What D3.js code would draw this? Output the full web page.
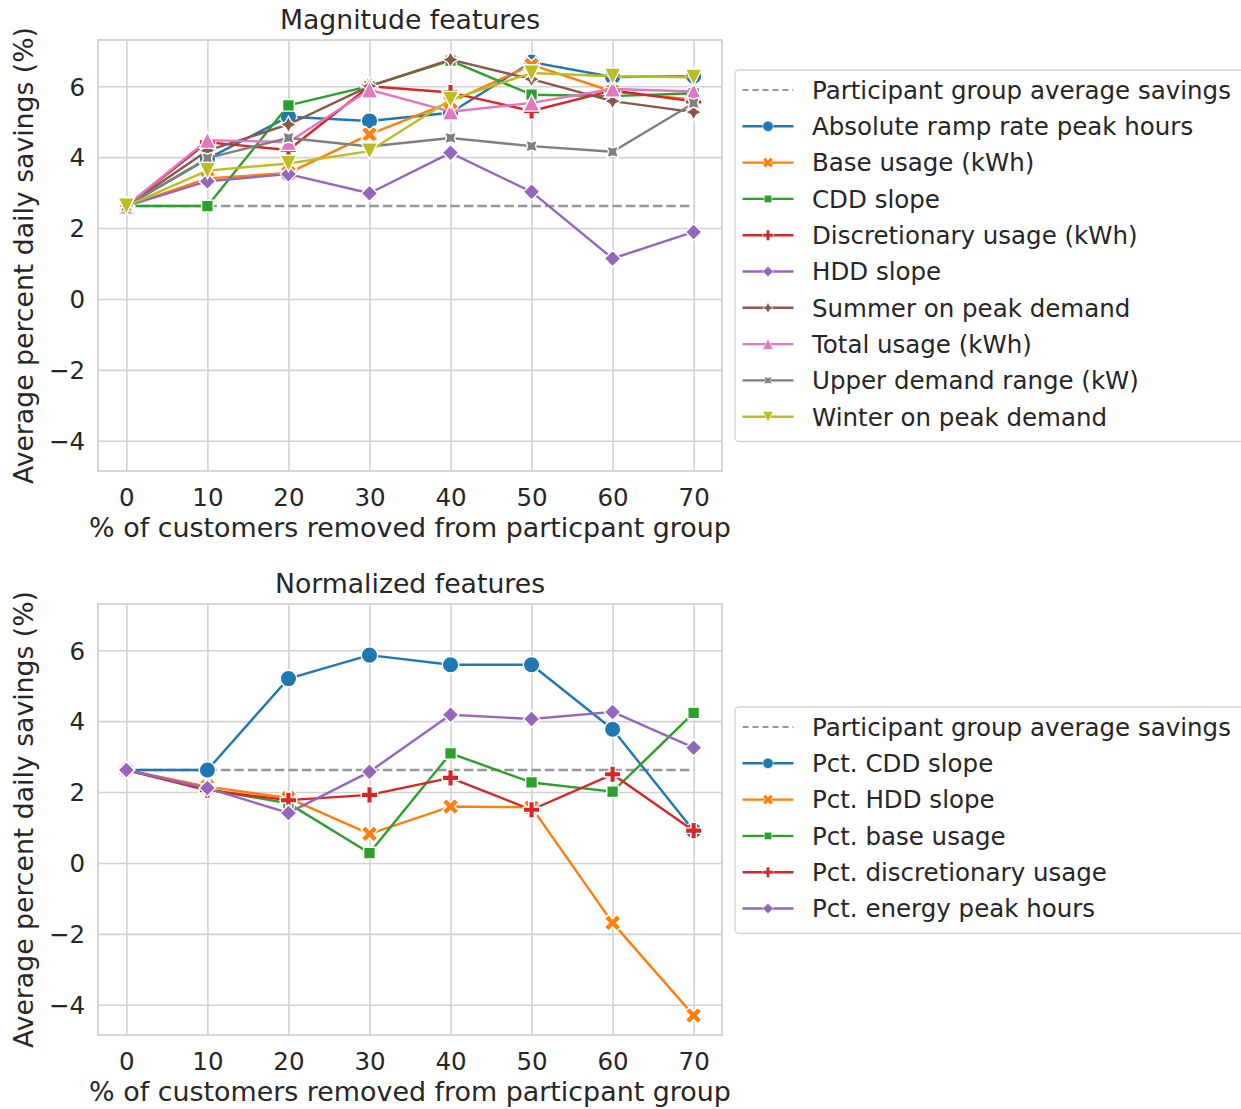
<!DOCTYPE html>
<html>
<head>
<meta charset="utf-8">
<script src="https://cdn.jsdelivr.net/npm/d3@7"></script>
<style>
  html, body { margin: 0; padding: 0; background: #fff; }
  svg { display: block; }
  text { font-family: "DejaVu Sans", sans-serif; fill: #262626; }
</style>
</head>
<body>
<svg id="chart" width="1241" height="1109"></svg>
<script>
// ---------------- DATA ----------------
const xValues = [0, 10, 20, 30, 40, 50, 60, 70];
const xTicks = [0, 10, 20, 30, 40, 50, 60, 70];
const yTicks = [-4, -2, 0, 2, 4, 6];
const participantAverage = 2.62;
const participantLabel = "Participant group average savings";

const magnitudeTitle = "Magnitude features";
const magnitudeNames = [
  "Absolute ramp rate peak hours",
  "Base usage (kWh)",
  "CDD slope",
  "Discretionary usage (kWh)",
  "HDD slope",
  "Summer on peak demand",
  "Total usage (kWh)",
  "Upper demand range (kW)",
  "Winter on peak demand"
];
const absRampRate   = [2.62, 3.95, 5.14, 5.02, 5.25, 6.68, 6.26, 6.28];
const baseUsage     = [2.62, 3.40, 3.55, 4.64, 5.55, 6.60, 5.85, 5.62];
const cddSlope      = [2.62, 2.62, 5.46, 6.00, 6.72, 5.76, 5.72, 5.80];
const discUsage     = [2.62, 4.42, 4.20, 6.00, 5.82, 5.30, 5.88, 5.57];
const hddSlope      = [2.62, 3.32, 3.52, 2.98, 4.12, 3.02, 1.14, 1.89];
const summerPeak    = [2.62, 4.18, 4.92, 6.00, 6.75, 6.20, 5.58, 5.27];
const totalUsage    = [2.62, 4.48, 4.42, 5.90, 5.28, 5.53, 5.92, 5.85];
const upperDemand   = [2.62, 3.97, 4.54, 4.30, 4.54, 4.31, 4.15, 5.52];
const winterPeak    = [2.62, 3.62, 3.82, 4.17, 5.62, 6.37, 6.28, 6.25];
const magnitudeSeries = [absRampRate, baseUsage, cddSlope, discUsage, hddSlope,
                         summerPeak, totalUsage, upperDemand, winterPeak];

const normalizedTitle = "Normalized features";
const normalizedNames = [
  "Pct. CDD slope",
  "Pct. HDD slope",
  "Pct. base usage",
  "Pct. discretionary usage",
  "Pct. energy peak hours"
];
const pctCddSlope   = [2.62, 2.62, 5.20, 5.86, 5.59, 5.59, 3.77, 0.91];
const pctHddSlope   = [2.62, 2.15, 1.83, 0.82, 1.59, 1.57, -1.69, -4.30];
const pctBaseUsage  = [2.62, 2.08, 1.68, 0.28, 3.09, 2.27, 2.01, 4.23];
const pctDiscUsage  = [2.62, 2.05, 1.77, 1.92, 2.40, 1.50, 2.50, 0.91];
const pctEnergyPeak = [2.62, 2.11, 1.41, 2.57, 4.18, 4.06, 4.26, 3.25];
const normalizedSeries = [pctCddSlope, pctHddSlope, pctBaseUsage, pctDiscUsage, pctEnergyPeak];

const xLabel = "% of customers removed from particpant group";
const yLabel = "Average percent daily savings (%)";

// ---------------- STYLE ----------------
const palette = ["#1f77b4", "#ff7f0e", "#2ca02c", "#d62728", "#9467bd",
                 "#8c564b", "#e377c2", "#7f7f7f", "#bcbd22"];
const markerTypes = ["o", "X", "sq", "P", "D", "star", "^", "starR", "v"];

function poly(pts) { return "M" + pts.map(p => p[0].toFixed(2) + "," + p[1].toFixed(2)).join("L") + "Z"; }
function regular(n, r, startDeg) {
  const pts = [];
  for (let k = 0; k < n; k++) {
    const a = (startDeg + k * 360 / n) * Math.PI / 180;
    pts.push([r * Math.cos(a), -r * Math.sin(a)]);
  }
  return pts;
}
function star(r, startDeg) {
  const pts = [];
  for (let k = 0; k < 8; k++) {
    const a = (startDeg + k * 45) * Math.PI / 180;
    const rr = (k % 2 === 0) ? r : r * 0.5;
    pts.push([rr * Math.cos(a), -rr * Math.sin(a)]);
  }
  return pts;
}
function markerPath(type, s) {
  const h = s / 2;
  switch (type) {
    case "o": return `M${h},0A${h},${h} 0 1,1 ${-h},0A${h},${h} 0 1,1 ${h},0Z`;
    case "X": return poly([[-1,-2],[0,-1],[1,-2],[2,-1],[1,0],[2,1],[1,2],[0,1],[-1,2],[-2,1],[-1,0],[-2,-1]].map(p => [p[0]*s/4, p[1]*s/4]));
    case "P": return poly([[-1,-3],[1,-3],[1,-1],[3,-1],[3,1],[1,1],[1,3],[-1,3],[-1,1],[-3,1],[-3,-1],[-1,-1]].map(p => [p[0]*s/6, p[1]*s/6]));
    case "sq": return poly(regular(4, h, 135));
    case "D": return poly(regular(4, h, 90));
    case "star": return poly(star(h, 90));
    case "starR": return poly(star(h, 135));
    case "^": return poly([[0,-h],[-h,h],[h,h]]);
    case "v": return poly([[0,h],[-h,-h],[h,-h]]);
  }
}

const svg = d3.select("#chart");

const allValues = magnitudeSeries.concat(normalizedSeries).flat().concat([participantAverage]);
const yMinData = d3.min(allValues), yMaxData = d3.max(allValues);
const yPad = (yMaxData - yMinData) * 0.05;
const xPad = (d3.max(xValues) - d3.min(xValues)) * 0.05;

function drawPanel(offsetY, title, names, series, legendTop) {
  const left = 98, right = 722, top = 40 + offsetY, bottom = 471 + offsetY;
  const x = d3.scaleLinear().domain([d3.min(xValues) - xPad, d3.max(xValues) + xPad]).range([left, right]);
  const y = d3.scaleLinear().domain([yMinData - yPad, yMaxData + yPad]).range([bottom, top]);
  const g = svg.append("g");

  // grid + tick labels
  const xAxis = d3.axisBottom(x).tickValues(xTicks).tickSize(-(bottom - top)).tickPadding(0).tickFormat(d3.format("d"));
  const yAxis = d3.axisLeft(y).tickValues(yTicks).tickSize(-(right - left)).tickPadding(0)
                  .tickFormat(d => d < 0 ? "\u2212" + Math.abs(d) : String(d));
  const gx = g.append("g").attr("transform", `translate(0,${bottom})`).call(xAxis);
  const gy = g.append("g").attr("transform", `translate(${left},0)`).call(yAxis);
  [gx, gy].forEach(a => {
    a.select(".domain").remove();
    a.selectAll(".tick line").attr("stroke", "#d2d2d2").attr("stroke-width", 1.6);
    a.selectAll(".tick text").attr("font-size", 24.5).attr("fill", "#262626")
      .style("font-family", "DejaVu Sans, sans-serif");
  });
  gx.selectAll(".tick text").attr("y", 506 + offsetY - bottom).attr("dy", null);
  gy.selectAll(".tick text").attr("x", -13).attr("dy", "0.36em").attr("text-anchor", "end");

  // frame
  g.append("rect").attr("x", left).attr("y", top).attr("width", right - left).attr("height", bottom - top)
    .attr("fill", "none").attr("stroke", "#d2d2d2").attr("stroke-width", 1.8);

  // participant average line
  g.append("path")
    .attr("d", d3.line()([[x(d3.min(xValues)), y(participantAverage)], [x(d3.max(xValues)), y(participantAverage)]]))
    .attr("stroke", "#979797").attr("stroke-width", 2.6).attr("stroke-dasharray", "9.5,4").attr("fill", "none");

  // series
  const line = d3.line().x((d, i) => x(xValues[i])).y(d => y(d));
  series.forEach((vals, si) => {
    g.append("path").attr("d", line(vals)).attr("fill", "none")
      .attr("stroke", palette[si]).attr("stroke-width", 2.4).attr("stroke-linejoin", "round");
    g.append("g").selectAll("path").data(vals).join("path")
      .attr("transform", (d, i) => `translate(${x(xValues[i])},${y(d)})`)
      .attr("d", markerPath(markerTypes[si], 16.5))
      .attr("fill", palette[si]).attr("stroke", "#fff").attr("stroke-width", 1.4)
      .attr("stroke-linejoin", "miter");
  });

  // title
  g.append("text").attr("x", (left + right) / 2).attr("y", 29 + offsetY).attr("text-anchor", "middle")
    .attr("font-size", 26.7).text(title);
  // x label
  g.append("text").attr("x", (left + right) / 2).attr("y", 537 + offsetY).attr("text-anchor", "middle")
    .attr("font-size", 26.9).text(xLabel);
  // y label
  g.append("text").attr("transform", `translate(33,${(top + bottom) / 2}) rotate(-90)`).attr("text-anchor", "middle")
    .attr("font-size", 26.7).text(yLabel);

  // legend
  const rowH = 36.3;
  const entries = [{ name: participantLabel, dashed: true }].concat(names.map((n, i) => ({ name: n, idx: i })));
  const boxTop = legendTop, boxH = entries.length * rowH + 8.5;
  const lg = g.append("g");
  lg.append("rect").attr("x", 735).attr("y", boxTop).attr("width", 520).attr("height", boxH)
    .attr("rx", 4).attr("fill", "#fff").attr("fill-opacity", 0.8).attr("stroke", "#d2d2d2").attr("stroke-width", 1.3);
  entries.forEach((e, k) => {
    const cy = boxTop + 20 + k * rowH;
    if (e.dashed) {
      lg.append("line").attr("x1", 742.5).attr("x2", 793.5).attr("y1", cy).attr("y2", cy)
        .attr("stroke", "#979797").attr("stroke-width", 2).attr("stroke-dasharray", "6,4");
    } else {
      lg.append("line").attr("x1", 742.5).attr("x2", 793.5).attr("y1", cy).attr("y2", cy)
        .attr("stroke", palette[e.idx]).attr("stroke-width", 2.4);
      lg.append("path").attr("transform", `translate(768,${cy})`).attr("d", markerPath(markerTypes[e.idx], 10.5))
        .attr("fill", palette[e.idx]).attr("stroke", "#fff").attr("stroke-width", 0.6);
    }
    lg.append("text").attr("x", 812).attr("y", cy).attr("dy", "0.36em").attr("font-size", 24.5).text(e.name);
  });
}

drawPanel(0, magnitudeTitle, magnitudeNames, magnitudeSeries, 70);
drawPanel(564, normalizedTitle, normalizedNames, normalizedSeries, 707);
</script>
</body>
</html>
